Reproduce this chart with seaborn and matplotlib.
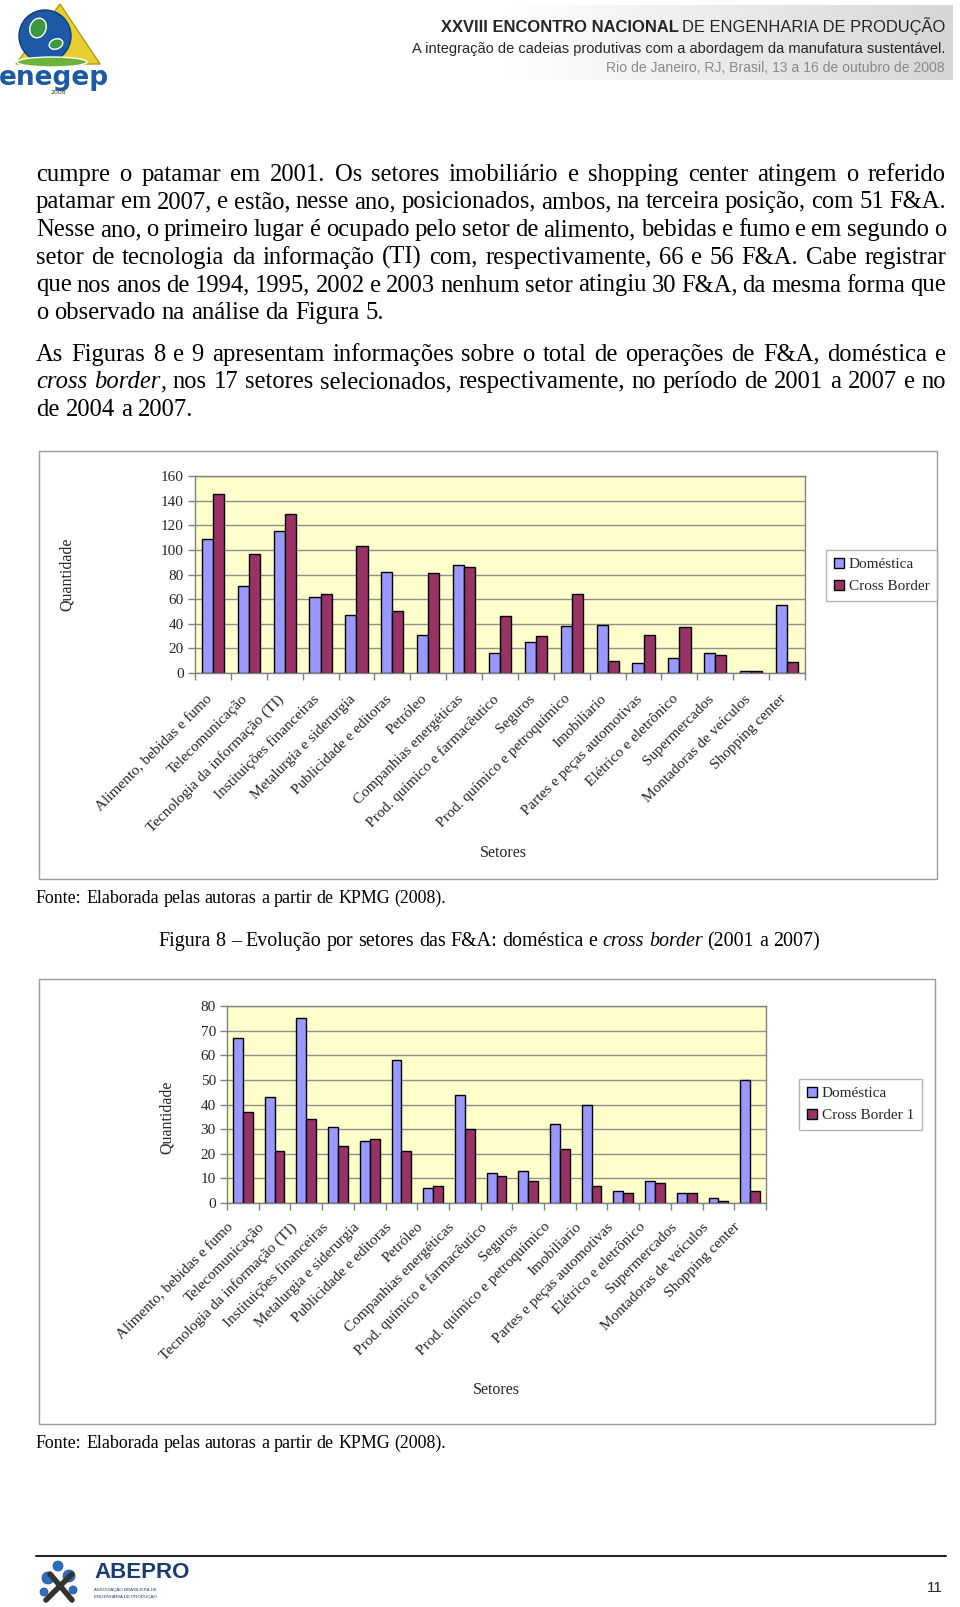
import matplotlib
matplotlib.use("Agg")
import matplotlib.pyplot as plt
import matplotlib.transforms as mtransforms
import numpy as np
import pandas as pd
import seaborn as sns
from matplotlib import font_manager
from matplotlib.colors import LinearSegmentedColormap
from matplotlib.patches import Circle, Ellipse, Patch, Polygon, Rectangle

# === Data ===
setores = [
    "Alimento, bebidas e fumo",
    "Telecomunicação",
    "Tecnologia da informação (TI)",
    "Instituições financeiras",
    "Metalurgia e siderurgia",
    "Publicidade e editoras",
    "Petróleo",
    "Companhias energéticas",
    "Prod. químico e farmacêutico",
    "Seguros",
    "Prod. químico e petroquímico",
    "Imobiliario",
    "Partes e peças automotivas",
    "Elétrico e eletrônico",
    "Supermercados",
    "Montadoras de veículos",
    "Shopping center",
]
domestica_2001_2007 = [109, 71, 115, 62, 47, 82, 31, 88, 16, 25, 38, 39, 8, 12, 16, 2, 55]
cross_border_2001_2007 = [145, 97, 129, 64, 103, 50, 81, 86, 46, 30, 64, 10, 31, 37, 15, 2, 9]
domestica_2004_2007 = [67, 43, 75, 31, 25, 58, 6, 44, 12, 13, 32, 40, 5, 9, 4, 2, 50]
cross_border_2004_2007 = [37, 21, 34, 23, 26, 21, 7, 30, 11, 9, 22, 7, 4, 8, 4, 1, 5]
legenda_fig8 = ["Doméstica", "Cross Border"]
legenda_fig9 = ["Doméstica", "Cross Border 1"]

paragrafo_1 = [
    "cumpre o patamar em 2001. Os setores imobiliário e shopping center atingem o referido",
    "patamar em 2007, e estão, nesse ano, posicionados, ambos, na terceira posição, com 51 F&A.",
    "Nesse ano, o primeiro lugar é ocupado pelo setor de alimento, bebidas e fumo e em segundo o",
    "setor de tecnologia da informação (TI) com, respectivamente, 66 e 56 F&A. Cabe registrar",
    "que nos anos de 1994, 1995, 2002 e 2003 nenhum setor atingiu 30 F&A, da mesma forma que",
    "o observado na análise da Figura 5.",
]
paragrafo_2 = [
    "As Figuras 8 e 9 apresentam informações sobre o total de operações de F&A, doméstica e",
    "*cross border*, nos 17 setores selecionados, respectivamente, no período de 2001 a 2007 e no",
    "de 2004 a 2007.",
]
fonte = "Fonte: Elaborada pelas autoras a partir de KPMG (2008)."
legenda_figura_8 = "Figura 8 – Evolução por setores das F&A: doméstica e *cross border* (2001 a 2007)"

DOM = "#9999FF"
CB = "#993366"
BG = "#FFFFCC"
GRAY = "#808080"

sns.set_theme(style="white")
SERIF = "Liberation Serif"
plt.rcParams["font.family"] = [SERIF, "DejaVu Serif"]
names = {f.name for f in font_manager.fontManager.ttflist}
NARROW = "Liberation Sans Narrow" if "Liberation Sans Narrow" in names else "Liberation Sans"

W, H = 960, 1607
fig = plt.figure(figsize=(W / 100, H / 100), dpi=100)
fig.patch.set_facecolor("white")
renderer = fig.canvas.get_renderer()


def px(x, y):
    return x / W, 1 - y / H


def rect(x0, y0, x1, y1):
    return [x0 / W, 1 - y1 / H, (x1 - x0) / W, (y1 - y0) / H]


def text_w(s, size, style="normal", family=SERIF, weight="normal"):
    t = fig.text(0, 0, s, size=size, style=style, family=family, weight=weight)
    w = t.get_window_extent(renderer).width
    t.remove()
    return w


def split_words(line):
    words, italic = [], False
    for w in line.split(" "):
        pieces, buf = [], ""
        for ch in w:
            if ch == "*":
                if buf:
                    pieces.append((buf, italic))
                    buf = ""
                italic = not italic
            else:
                buf += ch
        if buf:
            pieces.append((buf, italic))
        words.append(pieces)
    return words


def line_width(line, size):
    words = split_words(line)
    space = text_w("a a", size) - 2 * text_w("a", size)
    total = sum(text_w(p, size, "italic" if it else "normal") for w in words for p, it in w)
    return total + space * (len(words) - 1)


def draw_rich(line, y, size, x0=36, x1=None, align="left"):
    words = split_words(line)
    widths = [[text_w(p, size, "italic" if it else "normal") for p, it in w] for w in words]
    space = text_w("a a", size) - 2 * text_w("a", size)
    wsum = sum(sum(ws) for ws in widths)
    if x1 is not None and len(words) > 1:
        gap = (x1 - x0 - wsum) / (len(words) - 1)
    else:
        gap = space
    total = wsum + gap * (len(words) - 1)
    x = x0 - total / 2 if align == "center" else x0
    for pieces, ws in zip(words, widths):
        for (p, it), w in zip(pieces, ws):
            fig.text(*px(x, y), p, size=size, style="italic" if it else "normal",
                     va="baseline", ha="left", color="black")
            x += w
        x += gap


# === Header ===
ax_grad = fig.add_axes(rect(61, 5, 953, 80))
grad_cmap = LinearSegmentedColormap.from_list("hdr", ["#ffffff", "#ffffff", "#d6d6d6"])
ax_grad.imshow(np.linspace(0, 1, 256)[None, :], aspect="auto", cmap=grad_cmap)
ax_grad.axis("off")

bold_part = "XXVIII ENCONTRO NACIONAL"
reg_part = "DE ENGENHARIA DE PRODUÇÃO"
base = 14
sp = text_w("A A", base, family=NARROW) - 2 * text_w("A", base, family=NARROW)
tot = (text_w(bold_part, base, family=NARROW, weight="bold")
       + text_w(reg_part, base, family=NARROW) + sp)
s1 = base * 505 / tot
w_reg = text_w(reg_part, s1, family=NARROW)
sp1 = sp * s1 / base
fig.text(*px(945, 32), reg_part, size=s1, family=NARROW, ha="right", va="baseline")
fig.text(*px(945 - w_reg - sp1, 32), bold_part, size=s1, family=NARROW,
         weight="bold", ha="right", va="baseline")

h2 = "A integração de cadeias produtivas com a abordagem da manufatura sustentável."
s2 = base * 537 / text_w(h2, base, family=NARROW)
fig.text(*px(945, 53), h2, size=s2, family=NARROW, ha="right", va="baseline")
h3 = "Rio de Janeiro, RJ, Brasil, 13 a 16 de outubro de 2008"
s3 = base * 341 / text_w(h3, base, family=NARROW)
fig.text(*px(945, 72), h3, size=s3, family=NARROW, ha="right", va="baseline", color="#8a8a8a")

# logo enegep
ax_logo = fig.add_axes(rect(0, 0, 110, 100))
ax_logo.set_xlim(0, 110)
ax_logo.set_ylim(100, 0)
ax_logo.axis("off")
ax_logo.add_patch(Polygon([(60, 4), (100, 64), (16, 64)], closed=True,
                          facecolor="#e6cf2f", edgecolor="#b59a10", lw=1))
ax_logo.add_patch(Circle((45, 36), 26, facecolor="#1d5aa5", edgecolor="#0e3b78", lw=1))
ax_logo.add_patch(Ellipse((38, 28), 16, 20, angle=20, facecolor="#3a9a3a"))
ax_logo.add_patch(Ellipse((56, 44), 14, 10, angle=-20, facecolor="#3a9a3a"))
ax_logo.add_patch(Ellipse((52, 62), 70, 10, facecolor="#6bb33a"))
ax_logo.text(54, 78, "enegep", size=19, weight="bold", color="#1d5aa5",
             family="DejaVu Sans", ha="center", va="center")
ax_logo.text(58, 92, "2008", size=4.5, color="#333333", family="DejaVu Sans",
             ha="center", va="center")

# === Body text ===
body_size = 16 * 348 / line_width(paragrafo_1[-1], 16)
for i, line in enumerate(paragrafo_1):
    last = i == len(paragrafo_1) - 1
    draw_rich(line, 180.7 + 27.7 * i, body_size, x0=36, x1=None if last else 946)
for i, line in enumerate(paragrafo_2):
    last = i == len(paragrafo_2) - 1
    draw_rich(line, 360.7 + 27.7 * i, body_size, x0=36, x1=None if last else 946)

fonte_size = 14 * 412 / line_width(fonte, 14)
cap_size = 14 * 665 / line_width(legenda_figura_8, 14)


# === Charts ===
def draw_chart(plot_px, frame_px, dom, cb, labels, ymax, ystep, legend_px,
               qt_xy, set_xy, dx, dy):
    fx0, fy0, fx1, fy1 = frame_px
    fig.add_artist(Rectangle(px(fx0, fy1), (fx1 - fx0) / W, (fy1 - fy0) / H,
                             transform=fig.transFigure, fill=False,
                             edgecolor="#9a9a9a", lw=1))
    ax = fig.add_axes(rect(*plot_px))
    df = pd.DataFrame({
        "Setor": setores * 2,
        "Quantidade": dom + cb,
        "Tipo": [labels[0]] * len(setores) + [labels[1]] * len(setores),
    })
    sns.barplot(data=df, x="Setor", y="Quantidade", hue="Tipo", order=setores,
                hue_order=labels, palette=[DOM, CB], width=0.62, saturation=1,
                edgecolor="black", linewidth=1, legend=False, ax=ax)
    ax.set_facecolor(BG)
    ax.set_ylim(0, ymax)
    ax.set_yticks(range(0, ymax + 1, ystep))
    ax.yaxis.grid(True, color="#8f8f8f", lw=1)
    ax.set_axisbelow(True)
    ax.set_xlim(-0.5, len(setores) - 0.5)

    # category labels, rotated 45 degrees, end anchored under each category
    ax.set_xticks(range(len(setores)))
    ax.set_xticklabels([])
    ax.tick_params(axis="x", which="major", length=0)
    shift = mtransforms.ScaledTranslation(dx / 100, -dy / 100, fig.dpi_scale_trans)
    for i, lab in enumerate(setores):
        ax.text(i, 0, lab, transform=ax.get_xaxis_transform() + shift,
                rotation=45, ha="right", va="center", rotation_mode="anchor",
                fontsize=11, clip_on=False)

    ax.set_xticks(np.arange(-0.5, len(setores), 1), minor=True)
    ax.tick_params(axis="x", which="minor", length=5, color=GRAY, width=1,
                   direction="out", bottom=True)
    ax.tick_params(axis="y", length=5, color=GRAY, width=1, direction="out",
                   left=True, labelsize=11, pad=3)
    ax.set_xlabel("")
    ax.set_ylabel("")
    for s in ax.spines.values():
        s.set_color(GRAY)
        s.set_linewidth(1)
    fig.text(*px(*qt_xy), "Quantidade", rotation=90, ha="center", va="center", size=11.5)
    fig.text(*px(*set_xy), "Setores", ha="center", va="center", size=11.5)
    handles = [Patch(facecolor=DOM, edgecolor="black", label=labels[0]),
               Patch(facecolor=CB, edgecolor="black", label=labels[1])]
    leg = fig.legend(handles=handles, loc="upper left", bbox_to_anchor=px(*legend_px),
                     bbox_transform=fig.transFigure, frameon=True, fancybox=False,
                     fontsize=11, handlelength=0.7, handleheight=0.7,
                     handletextpad=0.3, borderpad=0.5, labelspacing=0.55,
                     borderaxespad=0)
    leg.get_frame().set_edgecolor("#a0a0a0")
    leg.get_frame().set_linewidth(1)
    return ax


draw_chart((195, 476, 805, 673), (39, 451, 937, 879),
           domestica_2001_2007, cross_border_2001_2007, legenda_fig8,
           160, 20, (826, 550), (67, 574), (503, 853), -3, 24)
draw_rich(fonte, 903, fonte_size, x0=36)
draw_rich(legenda_figura_8, 946, cap_size, x0=489, align="center")

draw_chart((227, 1006, 766, 1203), (39, 979, 935, 1424),
           domestica_2004_2007, cross_border_2004_2007, legenda_fig9,
           80, 10, (799, 1079), (167, 1117), (496, 1390), -12, 22)
draw_rich(fonte, 1448, fonte_size, x0=36)

# === Footer ===
fig.add_artist(plt.Line2D([36 / W, 946 / W], [1 - 1556 / H] * 2,
                          transform=fig.transFigure, color="#222222", lw=1.5))
ax_ab = fig.add_axes(rect(36, 1558, 200, 1604))
ax_ab.set_xlim(0, 164)
ax_ab.set_ylim(46, 0)
ax_ab.axis("off")
for cx, cy, r in [(12, 20, 6), (22, 8, 5), (33, 18, 6), (8, 34, 4), (37, 32, 4)]:
    ax_ab.add_patch(Circle((cx, cy), r, facecolor="#2a6fc0", edgecolor="#1a4d8c", lw=0.5))
ax_ab.plot([10, 36], [42, 16], color="#333333", lw=4, solid_capstyle="round")
ax_ab.plot([14, 36], [16, 42], color="#333333", lw=4, solid_capstyle="round")
ax_ab.text(58, 15, "ABEPRO", size=16, weight="bold", family=NARROW,
           color="#1b3b73", ha="left", va="center")
ax_ab.text(58, 32, "ASSOCIAÇÃO BRASILEIRA DE", size=3.2, family=NARROW,
           color="#1b3b73", ha="left", va="center")
ax_ab.text(58, 39, "ENGENHARIA DE PRODUÇÃO", size=3.2, family=NARROW,
           color="#1b3b73", ha="left", va="center")
fig.text(*px(935, 1588), "11", size=11, family=NARROW, ha="center", va="center")

fig.savefig("out.png", dpi=100, facecolor="white")
